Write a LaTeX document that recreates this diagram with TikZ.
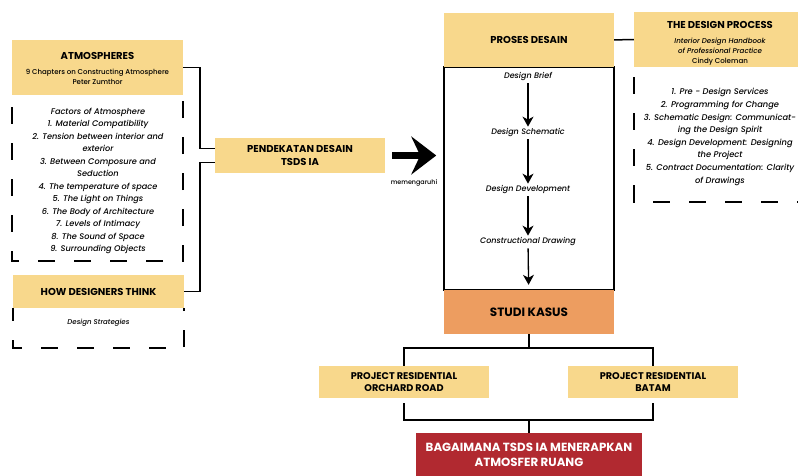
\documentclass[tikz,border=0pt]{standalone}
\usepackage{fontspec}
\setmainfont{Poppins}[UprightFont=* Medium, ItalicFont=* Medium Italic, BoldFont=* Bold]
\usetikzlibrary{arrows.meta,positioning}

\definecolor{boxyellow}{RGB}{248,216,140}
\definecolor{caseorange}{RGB}{237,157,96}
\definecolor{askred}{RGB}{177,41,48}

\tikzset{
  ybox/.style={fill=boxyellow, inner sep=0pt, align=center},
  head/.style={font=\bfseries\fontsize{10}{12.5}\selectfont, align=center, inner sep=0pt},
  sub/.style={font=\fontsize{7}{10}\selectfont, align=center, inner sep=0pt},
  itl/.style={font=\itshape\fontsize{8.2}{12.5}\selectfont, align=center, inner sep=0pt},
  stage/.style={font=\itshape\fontsize{8}{10}\selectfont, inner sep=2pt},
  conn/.style={line width=1.5pt, black},
  dbox/.style={line width=1.5pt, dash pattern=on 17pt off 19pt, dash phase=24pt},
  flow/.style={line width=1.3pt, -{Stealth[length=10pt,width=11pt,inset=3pt]}},
}

\begin{document}
\begin{tikzpicture}[x=1pt,y=-1pt]
  \useasboundingbox (0,0) rectangle (798,476);

  % left column: Zumthor and design thinking
  \node[ybox, minimum width=171pt, minimum height=55pt] (atmo) at (97.5,67.5) {};
  \node[head] (atmotitle) at (97.5,55.5) {ATMOSPHERES};
  \node[sub] (atmosub) at (97.5,77) {9 Chapters on Constructing Atmosphere\\Peter Zumthor};
  \node[itl] (atmolist) at (98,181) {Factors of Atmosphere\\1. Material Compatibility\\
    2. Tension between interior and\\exterior\\3. Between Composure and\\Seduction\\
    4. The temperature of space\\5. The Light on Things\\6. The Body of Architecture\\
    7. Levels of Intimacy\\8. The Sound of Space\\9. Surrounding Objects};
  \coordinate (atmobot) at (0,261);
  \draw[dbox] (atmo.south west) |- (atmo.south east |- atmobot) -- (atmo.south east);

  \node[ybox, head, minimum width=171pt, minimum height=33pt] (think) at (98.5,291.5) {HOW DESIGNERS THINK};
  \node[sub, font=\itshape\fontsize{7}{10}\selectfont] (strat) at (98.5,323) {Design Strategies};
  \coordinate (thinkbot) at (0,348);
  \draw[dbox, dash phase=4pt] (think.south west) |- (think.south east |- thinkbot) -- (think.south east);

  % approach box and the two feeds into it
  \node[ybox, head, minimum width=170pt, minimum height=35pt] (pend) at (300,155.5) {PENDEKATAN DESAIN\\TSDS IA};
  \coordinate (jn) at (200,0);
  \coordinate (pin1) at ([yshift=7pt]pend.west);
  \coordinate (pin2) at ([yshift=-7pt]pend.west);
  \draw[conn] (atmo.east) -| (jn |- pin1) -- (pin1);
  \draw[conn] (think.east) -| (jn |- pin2) -- (pin2);

  % design process column
  \node[draw, line width=1.5pt, minimum width=170pt, minimum height=223pt] (frame) at (529,178.5) {};
  \node[ybox, head, minimum width=170pt, minimum height=54pt] (proses) at (529,40) {PROSES DESAIN};
  \node[stage] (s1) at (528,77) {Design Brief};
  \node[stage] (s2) at (528,133) {Design Schematic};
  \node[stage] (s3) at (528,190) {Design Development};
  \node[stage] (s4) at (528,242) {Constructional Drawing};
  \node[fill=caseorange, head, font=\bfseries\fontsize{12}{14}\selectfont,
        minimum width=170pt, minimum height=44pt] (studi) at (529,312) {STUDI KASUS};
  \foreach \a/\b in {s1/s2,s2/s3,s3/s4}
    \draw[flow] (\a) -- (\b);
  \draw[flow, shorten >=5pt] (s4) -- (studi);

  % big arrow
  \draw[line width=7pt, -{Stealth[length=25pt,width=38pt,inset=9pt]}]
    ([xshift=7pt]pend.east) -- ([xshift=-7pt]frame.west |- pend.east);
  \node[sub, font=\fontsize{6.4}{8}\selectfont] (infl) at (414,183) {memengaruhi};

  % Coleman handbook
  \node[ybox, minimum width=166pt, minimum height=55pt] (dproc) at (717,39.5) {};
  \node[head] (dproctitle) at (720,25) {THE DESIGN PROCESS};
  \node[sub, font=\itshape\fontsize{7.1}{10}\selectfont] (dprocsub) at (720,52)
    {Interior Design Handbook\\of Professional Practice\\{\upshape Cindy Coleman}};
  \node[itl, font=\itshape\fontsize{8.3}{12.6}\selectfont] (dproclist) at (720,137)
    {1. Pre - Design Services\\2. Programming for Change\\3. Schematic Design: Communicat-\\
    ing the Design Spirit\\4. Design Development: Designing\\the Project\\
    5. Contract Documentation: Clarity\\of Drawings};
  \coordinate (dprocbot) at (810,202);
  \draw[dbox, dash phase=26pt] (dproc.south west) |- (dprocbot);
  \draw[conn] (proses) -- (dproc);

  % case studies
  \node[ybox, head, font=\bfseries\fontsize{9.7}{12}\selectfont,
        minimum width=170pt, minimum height=32pt] (orch) at (404,382) {PROJECT RESIDENTIAL\\ORCHARD ROAD};
  \node[ybox, head, font=\bfseries\fontsize{9.7}{12}\selectfont,
        minimum width=170pt, minimum height=32pt] (batam) at (653,382) {PROJECT RESIDENTIAL\\BATAM};
  \coordinate (split) at ([yshift=-14pt]studi.south);
  \draw[conn] (studi.south) -- (split) -| (orch.north);
  \draw[conn] (split) -| (batam.north);

  \node[fill=askred, text=white, head, font=\bfseries\fontsize{11.8}{15}\selectfont,
        minimum width=226pt, minimum height=44pt] (ask) at (529,455) {BAGAIMANA TSDS IA MENERAPKAN\\ATMOSFER RUANG};
  \coordinate (mid) at (529,420);
  \draw[conn] ([yshift=-5pt]orch.south) |- (mid) -| ([yshift=-5pt]batam.south);
  \draw[conn] (mid) -- (ask);
\end{tikzpicture}
\end{document}
